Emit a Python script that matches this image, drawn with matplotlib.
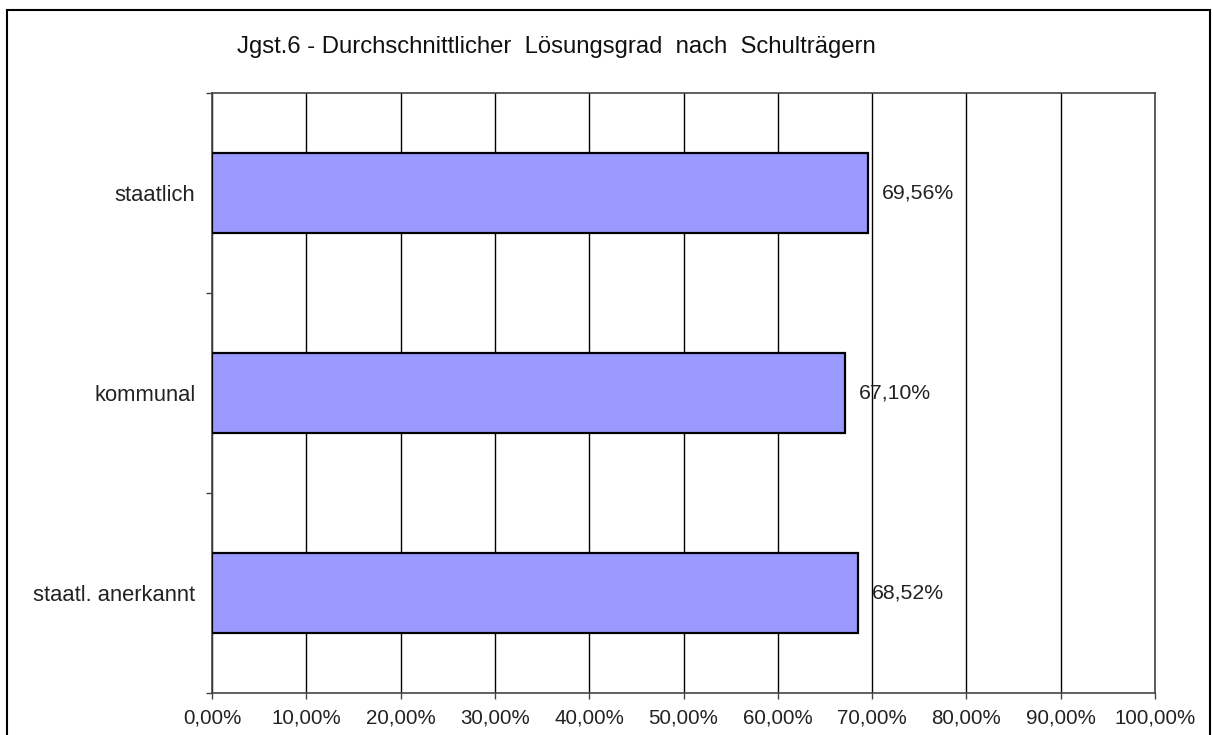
import matplotlib
matplotlib.use("Agg")
import matplotlib.pyplot as plt
from matplotlib.patches import Rectangle
from matplotlib.ticker import MultipleLocator, FixedLocator, FuncFormatter

categories = ["staatlich", "kommunal", "staatl. anerkannt"]
values = [69.56, 67.10, 68.52]
title = "Jgst.6 - Durchschnittlicher  Lösungsgrad  nach  Schulträgern"

plt.rcParams['font.family'] = ['Liberation Sans', 'DejaVu Sans']
W, H = 1213, 735
fig = plt.figure(figsize=(W / 100, H / 100), dpi=100)
fig.patch.set_facecolor("white")

left, right, top, bottom = 212, 1155, 93, 693
ax = fig.add_axes([left / W, 1 - bottom / H, (right - left) / W, (bottom - top) / H])

ypos = list(range(len(categories)))
ax.barh(ypos, values, height=0.4, color="#9999FF", edgecolor="black", linewidth=1.6, zorder=3)
ax.set_xlim(0, 100)
ax.set_ylim(len(categories) - 0.5, -0.5)

ax.xaxis.set_major_locator(MultipleLocator(10))
ax.xaxis.set_major_formatter(FuncFormatter(lambda v, p: f"{v:.2f}".replace(".", ",") + "%"))
ax.grid(axis="x", color="black", linewidth=1.0, zorder=1)
ax.set_yticks(ypos)
ax.set_yticklabels(categories)
ax.yaxis.set_minor_locator(FixedLocator([i - 0.5 for i in range(len(categories) + 1)]))
ax.tick_params(axis="y", which="major", length=0, pad=12, labelsize=15.8, labelcolor="#222222")
ax.tick_params(axis="y", which="minor", length=4, width=1.0, color="#444444", direction="out")
ax.tick_params(axis="x", which="major", length=4, width=1.0, color="#444444", pad=7.5,
               labelsize=14.8, labelcolor="#222222")
for s in ax.spines.values():
    s.set_color("#444444")
    s.set_linewidth(1.2)

for y, v in zip(ypos, values):
    ax.annotate(f"{v:.2f}".replace(".", ",") + "%", xy=(v, y), xytext=(14, 0),
                textcoords="offset pixels", va="center", ha="left",
                fontsize=15.3, color="#222222", zorder=4)

fig.text(556 / W, 1 - 47 / H, title, ha="center", va="center", fontsize=17.2, color="#111111")

fig.patches.append(Rectangle((7 / W, -0.05), (1210 - 7) / W, 1.05 - 10 / H,
                             transform=fig.transFigure, fill=False,
                             edgecolor="black", linewidth=1.5))

fig.savefig("out.png", dpi=100)
